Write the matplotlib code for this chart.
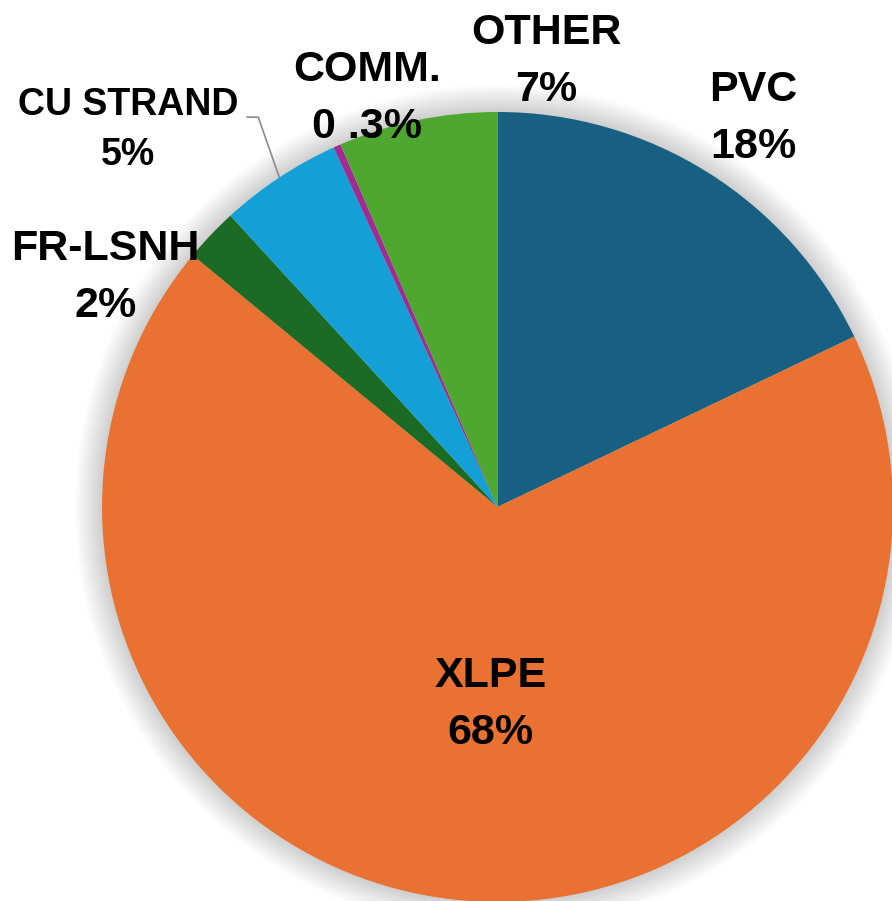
import numpy as np
import matplotlib.pyplot as plt
from matplotlib.patches import Circle

# slice shares (clockwise from 12 o'clock)
materials = ['PVC', 'XLPE', 'FR-LSNH', 'CU STRAND', 'COMM.', 'OTHER']
shares = [17.9, 68.1, 2.2, 5.0, 0.3, 6.5]
pct_text = ['18%', '68%', '2%', '5%', '0 .3%', '7%']
colors = ['#176082', '#E97132', '#1B6B24', '#12A0D7', '#A02B93', '#4EA72E']

# label placement (in pie radii) and sizes
label_xy = [(0.646, 0.983), (-0.018, -0.501), (-0.992, 0.582),
            (-0.934, 0.954), (-0.329, 1.035), (0.124, 1.127)]
label_size = [31, 31, 31, 27, 31, 31]
line_gap = 0.072

plt.rcParams['font.family'] = ['Liberation Sans', 'DejaVu Sans']

fig = plt.figure(figsize=(8.92, 9.01), dpi=100)
ax = fig.add_axes([0, 0, 1, 1])

# soft glow/shadow behind the pie
n = 24
for i in range(n, 0, -1):
    ax.add_patch(Circle((0, 0), 1 + 0.07 * i / n, color='black',
                        alpha=0.008, lw=0, zorder=0))

wedges, _ = ax.pie(shares, colors=colors, startangle=90, counterclock=False,
                   radius=1, wedgeprops=dict(linewidth=0))
for w in wedges:
    w.set_zorder(2)

for i, name in enumerate(materials):
    x, y = label_xy[i]
    fs = label_size[i]
    gap = line_gap * fs / 31
    ax.text(x, y + gap, name, ha='center', va='center', fontsize=fs,
            fontweight='bold', color='black', zorder=5)
    ax.text(x, y - gap, pct_text[i], ha='center', va='center', fontsize=fs,
            fontweight='bold', color='black', zorder=5)

# leader line for CU STRAND
w = wedges[3]
mid = np.deg2rad((w.theta1 + w.theta2) / 2)
ex, ey = np.cos(mid), np.sin(mid)
ax.plot([-0.633, -0.605, ex], [0.987, 0.987, ey], color='#8c8c8c', lw=1.2, zorder=4)

ax.set_xlim(-1.258, 0.9975)
ax.set_ylim(-0.9975, 1.2835)
ax.set_aspect('auto')
ax.axis('off')

fig.savefig('out.png', dpi=100, facecolor='white')
